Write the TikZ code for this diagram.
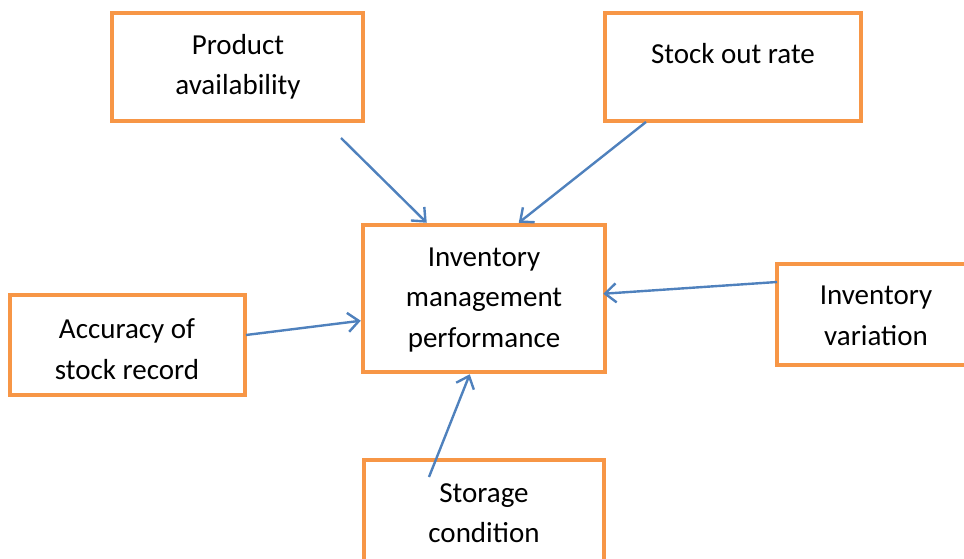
\documentclass[tikz,border=0pt]{standalone}
\usepackage{fontspec}
\setmainfont{Carlito}
\usetikzlibrary{arrows.meta,calc}
\definecolor{boxorange}{HTML}{F79646}
\definecolor{linkblue}{HTML}{4F81BD}
\tikzset{
  box/.style={draw=boxorange, line width=4.5pt, fill=white, inner sep=0pt},
  lbl/.style={font=\fontsize{29}{40.5}\selectfont, align=center, inner sep=0pt, text=black},
  link/.style={draw=linkblue, line width=2.4pt,
    -{Straight Barb[length=11pt,width=19pt,line width=2.4pt]}}
}
\begin{document}
\begin{tikzpicture}[x=1pt,y=-1pt]
\useasboundingbox (0,0) rectangle (964,559);

% boxes
\node[box, minimum width=251pt, minimum height=108pt] (prod)  at (237.5,67) {};
\node[box, minimum width=256pt, minimum height=108pt] (stock) at (733,67) {};
\node[box, minimum width=242pt, minimum height=147pt] (perf)  at (484,298.5) {};
\node[box, minimum width=235pt, minimum height=100pt] (acc)   at (127.5,345) {};
\node[box, minimum width=200pt, minimum height=101pt] (var)   at (877,314.5) {};
\node[box, minimum width=240pt, minimum height=102pt] (store) at (484,511) {};

% labels
\node[lbl] (prodT)  at (238,67)  {Product\\availability};
\node[lbl] (stockT) at (733,54)  {Stock out rate};
\node[lbl] (perfT)  at (484,300) {Inventory\\management\\performance};
\node[lbl] (accT)   at (127,349) {Accuracy of\\stock record};
\node[lbl] (varT)   at (876,316) {Inventory\\variation};
\node[lbl] (storeT) at (484,513) {Storage\\condition};

% free ends of the connectors
\coordinate (fromProd)  at (341,138);
\coordinate (fromStock) at (646,122);
\coordinate (fromAcc)   at (246,335);
\coordinate (fromVar)   at (777,282);
\coordinate (fromStore) at (429,477);

% connectors
\draw[link] (fromProd)  -- ($(perf.north west)+(66,0)$);
\draw[link] (fromStock) -- ($(perf.north west)+(158,0)$);
\draw[link] (fromAcc)   -- ($(perf.north west)+(0,98)$);
\draw[link] (fromVar)   -- ($(perf.north east)+(-4,71)$);
\draw[link] (fromStore) -- ($(perf.south west)+(109,0)$);
\end{tikzpicture}
\end{document}
